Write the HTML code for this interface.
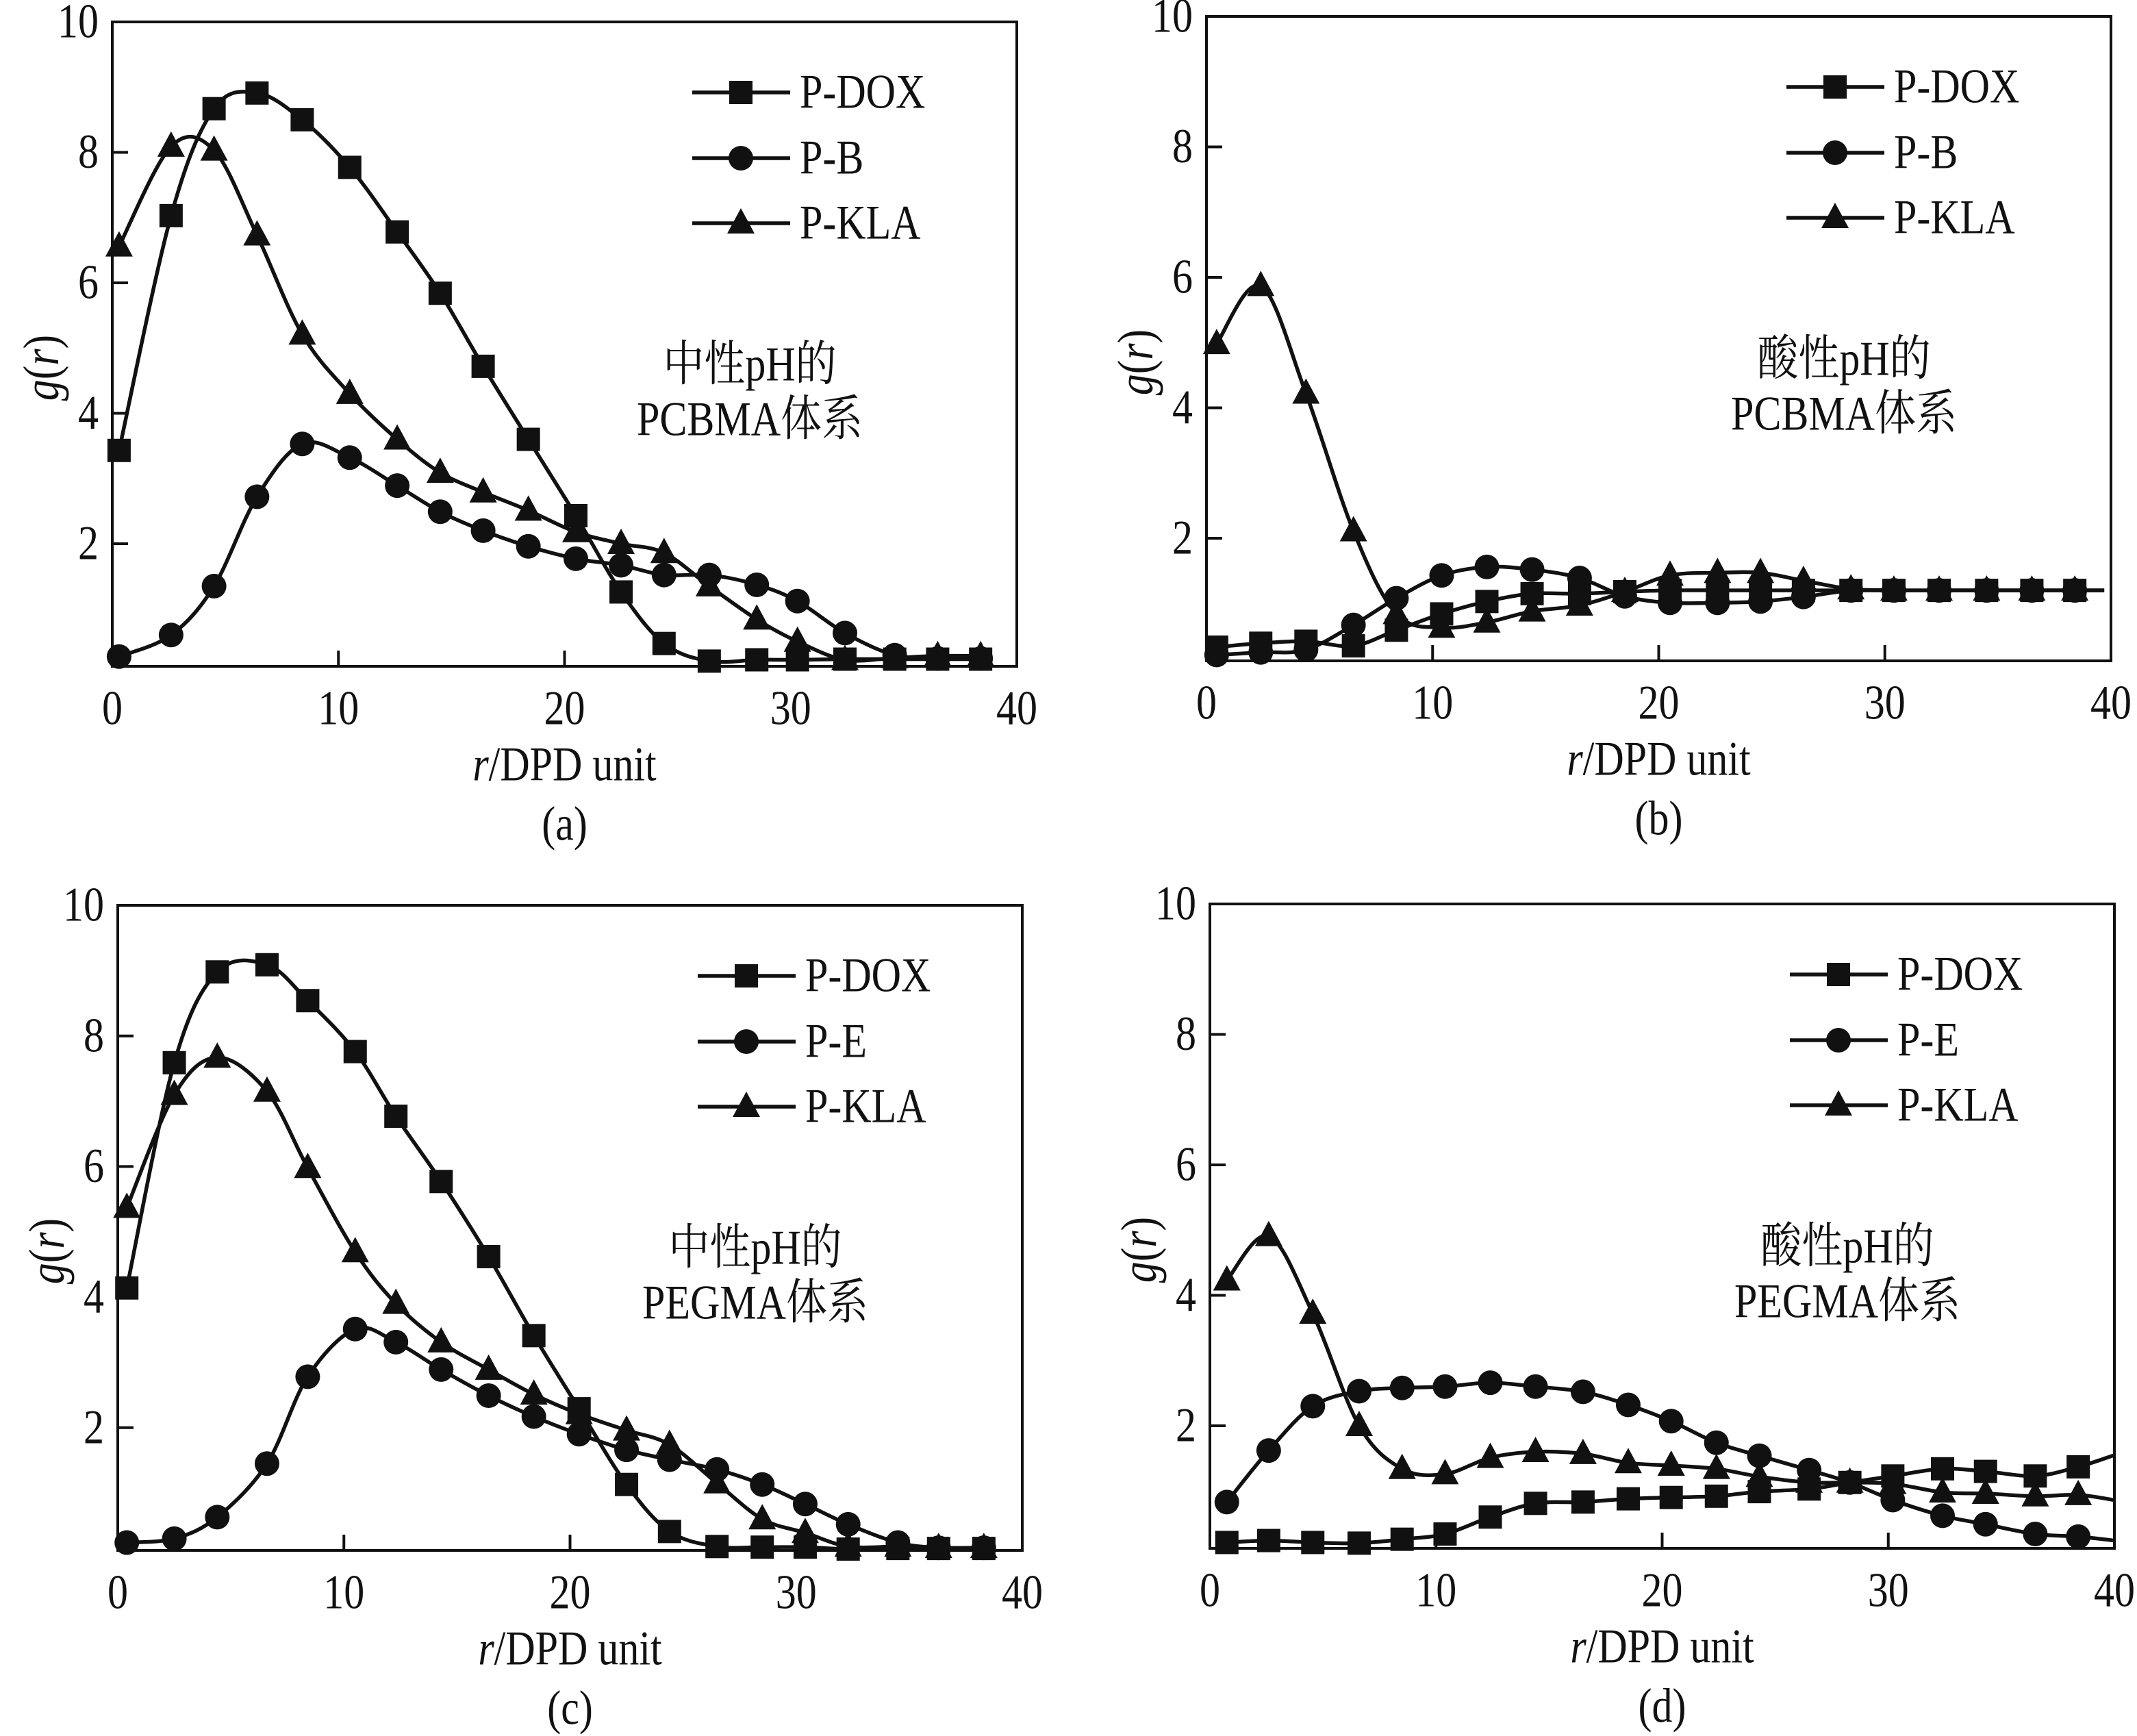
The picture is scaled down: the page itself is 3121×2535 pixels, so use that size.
<!DOCTYPE html>
<html><head><meta charset="utf-8"><style>
html,body{margin:0;padding:0;background:#fff;}
svg{display:block;}
</style></head><body>
<svg id="fig" width="3121" height="2535" viewBox="0 0 3121 2535" xmlns="http://www.w3.org/2000/svg"></svg>
<script>
// ---- data ----
const xA = [0.3,2.6,4.5,6.4,8.4,10.5,12.6,14.5,16.4,18.4,20.5,22.5,24.4,26.4,28.5,30.3,32.4,34.6,36.5,38.4];
const aDOX = [3.43,7.03,8.67,8.91,8.5,7.77,6.78,5.84,4.72,3.6,2.43,1.26,0.47,0.2,0.22,0.22,0.23,0.23,0.23,0.23];
const aB = [0.27,0.6,1.35,2.72,3.53,3.32,2.89,2.49,2.2,1.96,1.77,1.67,1.52,1.52,1.37,1.12,0.63,0.29,0.24,0.24];
const aKLA = [6.56,8.09,8.03,6.73,5.21,4.3,3.6,3.09,2.79,2.51,2.18,2.0,1.86,1.35,0.84,0.5,0.22,0.25,0.28,0.28];

const xB = [0.45,2.4,4.4,6.5,8.4,10.4,12.4,14.4,16.5,18.5,20.5,22.6,24.5,26.4,28.5,30.4,32.4,34.5,36.5,38.4,39.7];
const bDOX = [0.33,0.39,0.42,0.35,0.59,0.84,1.03,1.15,1.15,1.18,1.2,1.2,1.2,1.2,1.2,1.2,1.2,1.2,1.2,1.2,1.2];
const bB = [0.21,0.25,0.29,0.67,1.08,1.43,1.56,1.52,1.39,1.11,1.01,1.01,1.03,1.1,1.2,1.2,1.2,1.2,1.2,1.2,1.2];
const bKLA = [4.98,5.87,4.22,2.11,0.84,0.63,0.71,0.88,0.97,1.18,1.43,1.47,1.47,1.35,1.22,1.2,1.2,1.2,1.2,1.2,1.2];

const xC = [0.4,2.5,4.4,6.6,8.4,10.5,12.3,14.3,16.4,18.4,20.4,22.5,24.4,26.5,28.5,30.4,32.3,34.5,36.3,38.3];
const cDOX = [4.14,7.59,8.98,9.09,8.54,7.76,6.77,5.77,4.62,3.41,2.29,1.13,0.41,0.18,0.17,0.17,0.14,0.15,0.15,0.15];
const cE = [0.24,0.3,0.63,1.45,2.78,3.51,3.31,2.89,2.49,2.17,1.9,1.66,1.51,1.36,1.13,0.83,0.52,0.24,0.16,0.16];
const cKLA = [5.37,7.1,7.67,7.15,5.98,4.69,3.9,3.31,2.89,2.51,2.21,1.96,1.74,1.15,0.6,0.39,0.18,0.18,0.16,0.16];

const xD = [0.75,2.6,4.55,6.6,8.5,10.4,12.4,14.4,16.5,18.5,20.4,22.4,24.3,26.5,28.3,30.2,32.4,34.3,36.5,38.4,40];
const dDOX = [0.21,0.24,0.21,0.2,0.26,0.34,0.6,0.81,0.83,0.88,0.9,0.92,0.99,1.03,1.13,1.23,1.34,1.3,1.23,1.37,1.55];
const dE = [0.83,1.62,2.3,2.53,2.58,2.6,2.66,2.6,2.52,2.32,2.07,1.74,1.54,1.32,1.13,0.86,0.62,0.49,0.34,0.3,0.24];
const dKLA = [4.23,4.91,3.72,2.0,1.34,1.26,1.51,1.6,1.57,1.43,1.39,1.34,1.22,1.13,1.13,1.11,0.98,0.96,0.92,0.94,0.86];

const xTicks = [0,10,20,30,40];
const yTicks = [2,4,6,8,10];

const NS = "http://www.w3.org/2000/svg";
const svg = document.getElementById('fig');
const FONT = '"Liberation Serif","Noto Serif CJK SC","Noto Sans CJK SC",serif';

function mk(tag, attrs, parent){
  const e = document.createElementNS(NS, tag);
  for (const k in attrs) e.setAttribute(k, attrs[k]);
  (parent||svg).appendChild(e);
  return e;
}
function txt(parent, x, y, s, size, anchor, rot){
  const g = mk('g', {transform: 'translate('+x+','+y+')' + (rot?' rotate('+rot+')':'') + ' scale(1,1.18)'}, parent);
  const t = mk('text', {x:0, y:0, 'font-size':size, 'font-family':FONT, 'text-anchor':anchor||'middle', 'dominant-baseline':'central', fill:'#111'}, g);
  return t;
}
function spline(pts){
  let d = 'M'+pts[0][0]+','+pts[0][1];
  for (let i=0;i<pts.length-1;i++){
    const p0=pts[Math.max(0,i-1)], p1=pts[i], p2=pts[i+1], p3=pts[Math.min(pts.length-1,i+2)];
    const c1x=p1[0]+(p2[0]-p0[0])/6, c1y=p1[1]+(p2[1]-p0[1])/6;
    const c2x=p2[0]-(p3[0]-p1[0])/6, c2y=p2[1]-(p3[1]-p1[1])/6;
    d += ' C'+c1x.toFixed(1)+','+c1y.toFixed(1)+' '+c2x.toFixed(1)+','+c2y.toFixed(1)+' '+p2[0].toFixed(1)+','+p2[1].toFixed(1);
  }
  return d;
}
function marker(parent, type, x, y){
  let e;
  if (type==='square') e = mk('rect', {x:x-17, y:y-17, width:34, height:34, fill:'#111'}, parent);
  else if (type==='circle') e = mk('circle', {cx:x, cy:y, r:18, fill:'#111'}, parent);
  else e = mk('polygon', {points:(x)+','+(y-22)+' '+(x-20)+','+(y+15)+' '+(x+20)+','+(y+15), fill:'#111'}, parent);
  return e;
}

function panel(cfg){
  const {L,T,R,B,xs,series,label,names,annot,id} = cfg;
  const g = mk('g', {});
  
  
  const ymin = 0.12, ymax = 10;
  const sx = v => L + (v/40)*(R-L);
  const sy = v => B - (v-ymin)/(ymax-ymin)*(B-T);
  const fr = mk('rect', {x:L, y:T, width:R-L, height:B-T, fill:'none', stroke:'#111', 'stroke-width':4}, g);
  
  
  yTicks.forEach(v => {
    const y = sy(v);
    if (v < 10) {
      const tk = mk('line', {x1:L, x2:L+23, y1:y, y2:y, stroke:'#111', 'stroke-width':4}, g);
      
      
    }
    const t = txt(g, L-20, y, String(v), 60, 'end');
    t.textContent = String(v);
    
    
  });
  xTicks.forEach(v => {
    const x = sx(v);
    if (v>0 && v<40) {
      const tk = mk('line', {x1:x, x2:x, y1:B, y2:B-23, stroke:'#111', 'stroke-width':4}, g);
      
      
    }
    const t = txt(g, x, B+62, String(v), 60, 'middle');
    t.textContent = String(v);
    
    
  });
  const yt = txt(g, L-104, T+505, '', 62, 'middle', -90);
  yt.innerHTML = '<tspan font-style="italic">g</tspan>(<tspan font-style="italic">r</tspan>)';
  
  
  const xt = txt(g, (L+R)/2, B+144, '', 60, 'middle');
  xt.innerHTML = '<tspan font-style="italic">r</tspan>/DPD unit';
  
  
  const pl = txt(g, (L+R)/2, B+231, label, 60, 'middle');
  pl.textContent = label;
  
  
  const a1 = txt(g, L+931, T+501, annot[0], 60, 'middle');
  a1.textContent = annot[0];
  
  
  const a2 = txt(g, L+931, T+581, annot[1], 60, 'middle');
  a2.textContent = annot[1];
  
  
  const types = ['square','circle','triangle'];
  series.forEach((vals, si) => {
    const sg = mk('g', {}, g);
    
    
    const pts = xs.map((x,i)=>[sx(x), sy(vals[i])]);
    const p = mk('path', {d:spline(pts), fill:'none', stroke:'#111', 'stroke-width':5.5, 'stroke-linejoin':'round'}, sg);
    
    
    xs.forEach((x,i)=>{
      if (x > 39.2) return;
      const m = marker(sg, types[si], sx(x), sy(vals[i]));
      
      
    });
  });
  const rows = [T+103, T+199, T+294];
  names.forEach((n,i)=>{
    const lg = mk('g', {}, g);
    
    
    mk('line', {x1:L+847, x2:L+990, y1:rows[i], y2:rows[i], stroke:'#111', 'stroke-width':5.5}, lg);
    marker(lg, types[i], L+918, rows[i]);
    const t = txt(lg, L+1004, rows[i], n, 60, 'start');
    t.textContent = n;
  });
}

panel({id:'a', L:164, T:32, R:1485, B:973, xs:xA, series:[aDOX,aB,aKLA], names:['P-DOX','P-B','P-KLA'], label:'(a)', annot:['中性pH的','PCBMA体系']});
panel({id:'b', L:1762, T:24, R:3083, B:965, xs:xB, series:[bDOX,bB,bKLA], names:['P-DOX','P-B','P-KLA'], label:'(b)', annot:['酸性pH的','PCBMA体系']});
panel({id:'c', L:172, T:1322, R:1493, B:2264, xs:xC, series:[cDOX,cE,cKLA], names:['P-DOX','P-E','P-KLA'], label:'(c)', annot:['中性pH的','PEGMA体系']});
panel({id:'d', L:1767, T:1320, R:3088, B:2261, xs:xD, series:[dDOX,dE,dKLA], names:['P-DOX','P-E','P-KLA'], label:'(d)', annot:['酸性pH的','PEGMA体系']});
</script>
</body></html>
